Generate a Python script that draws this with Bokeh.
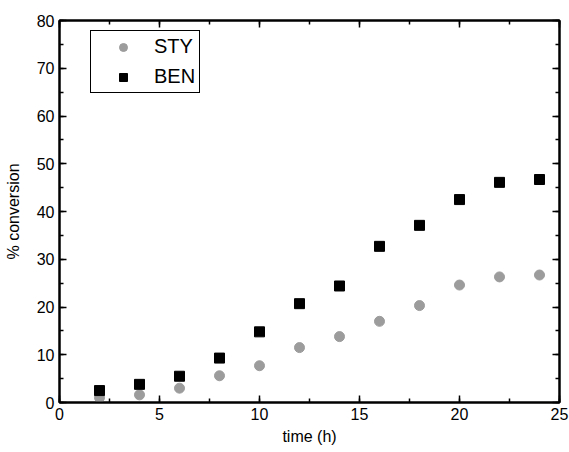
from bokeh.plotting import figure
from bokeh.models import (LinearAxis, Range1d, Legend, LegendItem, SingleIntervalTicker,
                          CustomJSTickFormatter)
from bokeh.embed import file_html
from bokeh.resources import INLINE

time_h = [2, 4, 6, 8, 10, 12, 14, 16, 18, 20, 22, 24]
sty = [1.0, 1.6, 3.0, 5.6, 7.7, 11.5, 13.8, 17.0, 20.3, 24.6, 26.3, 26.7]
ben = [2.5, 3.8, 5.5, 9.3, 14.8, 20.7, 24.4, 32.7, 37.1, 42.5, 46.1, 46.7]

FONT = "Liberation Sans"

p = figure(width=569, height=452, output_backend="svg", toolbar_location=None,
           x_range=Range1d(0, 25), y_range=Range1d(0, 80),
           min_border_left=59, min_border_right=10, min_border_top=20, min_border_bottom=50,
           x_axis_label="time (h)", y_axis_label="% conversion")
p.grid.visible = False
p.outline_line_color = "black"
p.outline_line_width = 2
p.background_fill_color = "white"
p.border_fill_color = "white"

r1 = p.scatter(time_h, sty, marker="circle", size=10, fill_color="#9c9c9c", line_color="#9c9c9c")
r2 = p.scatter(time_h, ben, marker="square", size=10, fill_color="black", line_color="black")

p.add_layout(LinearAxis(formatter=CustomJSTickFormatter(code="return ''")), "right")
p.add_layout(LinearAxis(formatter=CustomJSTickFormatter(code="return ''")), "above")

for ax in p.xaxis:
    ax.ticker = SingleIntervalTicker(interval=5, num_minor_ticks=2)
for ax in p.yaxis:
    ax.ticker = SingleIntervalTicker(interval=10, num_minor_ticks=2)

for ax in p.axis:
    ax.major_tick_in = 7
    ax.major_tick_out = 0
    ax.minor_tick_in = 4
    ax.minor_tick_out = 0
    ax.axis_line_width = 2
    ax.axis_line_color = "black"
    ax.major_tick_line_width = 1.5
    ax.minor_tick_line_width = 1.5
    ax.major_label_text_font = FONT
    ax.major_label_text_font_size = "16px"
    ax.major_label_text_color = "black"
    ax.axis_label_text_font = FONT
    ax.axis_label_text_font_size = "16px"
    ax.axis_label_text_font_style = "normal"
    ax.axis_label_text_color = "black"

p.right[0].major_label_standoff = 0
p.above[0].major_label_standoff = 0
p.xaxis[0].axis_label_standoff = 12
p.yaxis[0].axis_label_standoff = 12
p.xaxis[0].major_label_standoff = 5
p.yaxis[0].major_label_standoff = 5

legend = Legend(items=[LegendItem(label="STY", renderers=[r1]),
                       LegendItem(label="BEN", renderers=[r2])],
                location=(31, 309))
legend.padding = 4
legend.spacing = 7
legend.glyph_width = 56
legend.glyph_height = 20
legend.label_height = 20
legend.label_standoff = 3
legend.label_text_font = FONT
legend.label_text_font_size = "20px"
legend.label_text_color = "black"
legend.border_line_color = "black"
legend.border_line_width = 1.5
legend.border_line_alpha = 1.0
legend.margin = 0
p.add_layout(legend, "center")

open("out.html", "w").write(file_html(p, INLINE))
